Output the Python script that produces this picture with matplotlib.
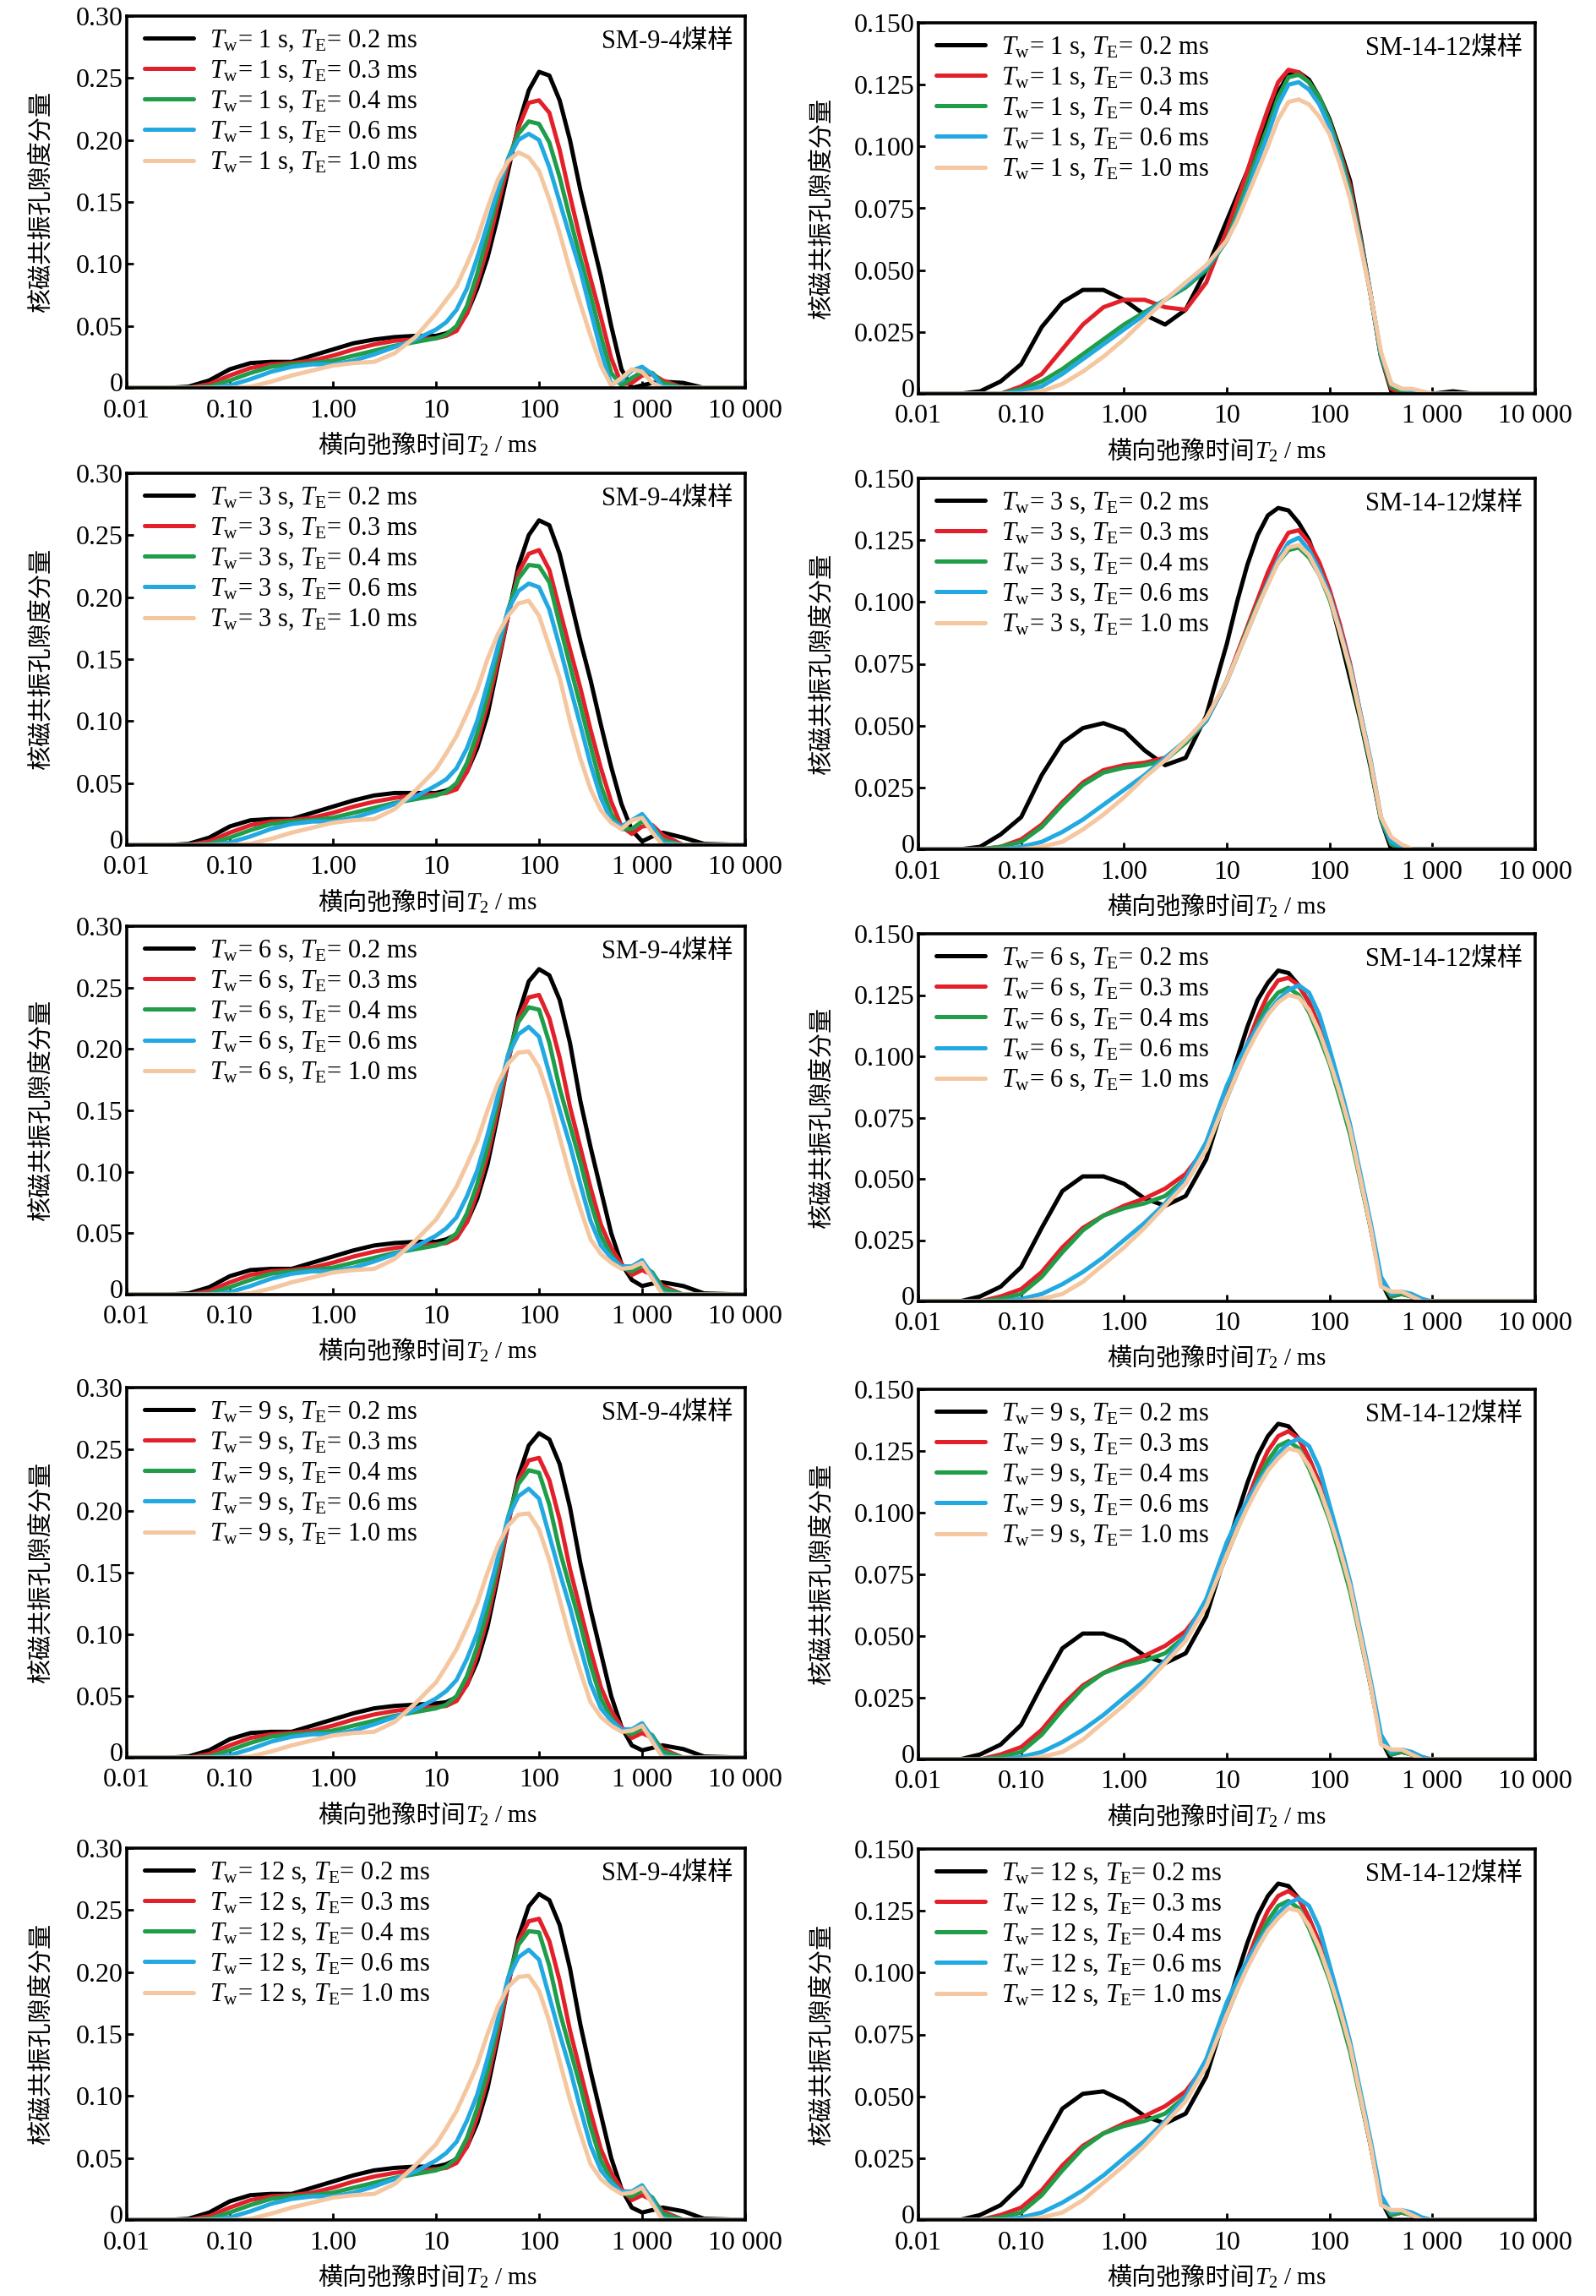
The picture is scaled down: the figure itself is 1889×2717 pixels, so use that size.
import matplotlib
matplotlib.use('Agg')
import matplotlib.pyplot as plt
import matplotlib.transforms as mtransforms
from matplotlib.ticker import NullLocator

plt.rcParams['font.family'] = ['Liberation Serif', 'Noto Sans CJK SC']
plt.rcParams['mathtext.fontset'] = 'custom'
plt.rcParams['mathtext.rm'] = 'Liberation Serif'
plt.rcParams['mathtext.it'] = 'Liberation Serif:italic'

#################################################################
# Data - T2 grid as log10(ms), porosity components
#################################################################

# SM-9-4 coal sample (left column)
LOG_T2_SM94 = [-2.0, -1.6, -1.4, -1.2, -1.0, -0.8, -0.6, -0.4, -0.2,
               0.0, 0.2, 0.4, 0.6, 0.8,
               1.0, 1.1, 1.2, 1.3, 1.4, 1.5, 1.6, 1.7, 1.8, 1.9, 2.0,
               2.1, 2.2, 2.3, 2.4, 2.5, 2.6, 2.7, 2.8, 2.9, 3.0, 3.1, 3.2,
               3.4, 3.6, 4.0]

# each panel: TE = 0.2, 0.3, 0.4, 0.6, 1.0 ms
SM94_TW1 = [
    [0, 0, .001, .006, .015, .020, .021, .021, .026, .031, .036, .039, .041, .042,
     .042, .044, .048, .060, .080, .105, .138, .175, .212, .240, .255,
     .252, .232, .200, .160, .125, .090, .050, .015, .000, .002, .004, .005, .004, 0, 0],
    [0, 0, 0, .003, .010, .016, .019, .020, .022, .026, .031, .035, .038, .039,
     .040, .042, .046, .060, .085, .113, .148, .180, .210, .230, .232,
     .222, .192, .155, .120, .088, .057, .024, .003, .004, .010, .011, .006, 0, 0, 0],
    [0, 0, 0, .001, .006, .012, .017, .019, .020, .022, .026, .030, .034, .037,
     .040, .043, .050, .066, .092, .123, .155, .185, .205, .215, .213,
     .198, .170, .137, .105, .075, .042, .012, .002, .008, .013, .012, .004, 0, 0, 0],
    [0, 0, 0, 0, .002, .007, .013, .017, .019, .019, .022, .027, .033, .039,
     .047, .053, .063, .080, .105, .132, .160, .185, .200, .205, .200,
     .178, .150, .122, .095, .062, .030, .003, .006, .014, .017, .011, .001, 0, 0, 0],
    [0, 0, 0, 0, 0, .001, .005, .010, .014, .018, .020, .021, .028, .041,
     .060, .071, .082, .100, .120, .145, .168, .183, .190, .186, .175,
     .152, .125, .095, .068, .042, .018, .002, .008, .015, .013, .004, 0, 0, 0, 0],
]

SM94_TW3 = [
    [0, 0, .001, .006, .015, .020, .021, .021, .026, .031, .036, .040, .042, .042,
     .042, .044, .048, .059, .078, .105, .145, .185, .225, .250, .262,
     .258, .235, .200, .165, .133, .097, .063, .033, .012, .003, .007, .010, .006, .001, 0],
    [0, 0, 0, .003, .010, .016, .019, .020, .022, .026, .031, .035, .038, .040,
     .041, .042, .045, .059, .083, .113, .148, .185, .220, .235, .238,
     .222, .190, .158, .127, .093, .062, .035, .015, .009, .015, .016, .008, 0, 0, 0],
    [0, 0, 0, .001, .006, .012, .017, .019, .020, .022, .026, .030, .034, .037,
     .040, .043, .050, .066, .090, .120, .155, .190, .215, .226, .225,
     .212, .178, .145, .113, .080, .048, .025, .013, .013, .019, .015, .004, 0, 0, 0],
    [0, 0, 0, 0, .002, .007, .013, .017, .019, .019, .022, .027, .033, .039,
     .048, .053, .062, .078, .100, .130, .160, .190, .205, .211, .208,
     .190, .160, .128, .097, .065, .038, .020, .015, .020, .025, .015, .002, 0, 0, 0],
    [0, 0, 0, 0, 0, .001, .005, .010, .014, .018, .020, .021, .029, .044,
     .061, .074, .088, .106, .125, .150, .170, .185, .195, .197, .185,
     .160, .135, .100, .070, .045, .028, .018, .013, .020, .022, .010, 0, 0, 0, 0],
]

SM94_TW6 = [
    [0, 0, .001, .006, .015, .020, .021, .021, .026, .031, .036, .040, .042, .043,
     .043, .045, .049, .059, .078, .106, .146, .190, .228, .255, .265,
     .260, .240, .205, .158, .120, .085, .050, .025, .012, .007, .009, .010, .007, .001, 0],
    [0, 0, 0, .003, .010, .016, .019, .020, .022, .026, .031, .035, .038, .040,
     .041, .042, .046, .059, .083, .113, .150, .190, .225, .242, .244,
     .225, .193, .153, .120, .087, .057, .038, .025, .016, .020, .016, .007, 0, 0, 0],
    [0, 0, 0, .001, .006, .012, .017, .019, .020, .022, .026, .030, .034, .037,
     .040, .043, .050, .066, .090, .120, .157, .195, .222, .234, .232,
     .205, .168, .138, .108, .075, .048, .032, .022, .019, .024, .018, .005, 0, 0, 0],
    [0, 0, 0, 0, .002, .007, .013, .017, .019, .019, .022, .027, .033, .039,
     .048, .054, .063, .080, .101, .130, .162, .195, .212, .218, .210,
     .180, .150, .122, .090, .060, .040, .030, .023, .023, .028, .016, .001, 0, 0, 0],
    [0, 0, 0, 0, 0, .001, .005, .010, .014, .018, .020, .021, .029, .044,
     .061, .074, .088, .106, .125, .150, .172, .188, .197, .198, .185,
     .160, .128, .097, .070, .045, .033, .026, .021, .022, .026, .013, 0, 0, 0, 0],
]

SM94_TW9 = [
    [0, 0, .001, .006, .015, .020, .021, .021, .026, .031, .036, .040, .042, .043,
     .044, .045, .049, .059, .078, .106, .146, .190, .228, .253, .263,
     .258, .238, .203, .158, .120, .085, .050, .025, .010, .006, .008, .010, .007, .001, 0],
    [0, 0, 0, .003, .010, .016, .019, .020, .022, .026, .031, .035, .038, .040,
     .041, .042, .046, .059, .083, .113, .150, .190, .225, .241, .243,
     .225, .193, .153, .120, .087, .057, .038, .025, .016, .020, .016, .007, 0, 0, 0],
    [0, 0, 0, .001, .006, .012, .017, .019, .020, .022, .026, .030, .034, .037,
     .040, .043, .050, .066, .090, .120, .157, .195, .222, .233, .231,
     .205, .168, .138, .108, .075, .048, .032, .022, .019, .024, .018, .005, 0, 0, 0],
    [0, 0, 0, 0, .002, .007, .013, .017, .019, .019, .022, .027, .033, .039,
     .048, .054, .063, .080, .101, .130, .162, .195, .212, .218, .210,
     .180, .150, .122, .090, .060, .040, .030, .023, .023, .028, .016, .001, 0, 0, 0],
    [0, 0, 0, 0, 0, .001, .005, .010, .014, .018, .020, .021, .029, .044,
     .061, .074, .088, .106, .125, .150, .172, .188, .197, .198, .185,
     .160, .128, .097, .070, .045, .033, .026, .021, .022, .026, .013, 0, 0, 0, 0],
]

SM94_TW12 = [
    [0, 0, .001, .006, .015, .020, .021, .021, .026, .031, .036, .040, .042, .043,
     .043, .045, .049, .059, .078, .106, .146, .190, .228, .253, .263,
     .258, .238, .203, .158, .120, .085, .050, .025, .010, .006, .008, .010, .007, .001, 0],
    [0, 0, 0, .003, .010, .016, .019, .020, .022, .026, .031, .035, .038, .040,
     .041, .042, .046, .059, .083, .113, .150, .190, .225, .241, .243,
     .225, .193, .153, .120, .087, .057, .038, .025, .016, .020, .016, .007, 0, 0, 0],
    [0, 0, 0, .001, .006, .012, .017, .019, .020, .022, .026, .030, .034, .037,
     .040, .043, .050, .066, .090, .120, .157, .195, .222, .233, .232,
     .205, .168, .138, .108, .075, .048, .032, .022, .019, .024, .018, .005, 0, 0, 0],
    [0, 0, 0, 0, .002, .007, .013, .017, .019, .019, .022, .027, .033, .039,
     .048, .054, .063, .080, .101, .130, .162, .195, .212, .218, .210,
     .180, .150, .122, .090, .060, .040, .030, .023, .023, .028, .016, .001, 0, 0, 0],
    [0, 0, 0, 0, 0, .001, .005, .010, .014, .018, .020, .021, .029, .044,
     .061, .074, .088, .106, .125, .150, .172, .188, .196, .197, .185,
     .160, .128, .097, .070, .045, .033, .026, .021, .022, .026, .013, 0, 0, 0, 0],
]

# SM-14-12 coal sample (right column)
LOG_T2_SM1412 = [-2.0, -1.6, -1.4, -1.2, -1.0, -0.8, -0.6, -0.4, -0.2,
                 0.0, 0.2, 0.4, 0.6, 0.8,
                 1.0, 1.1, 1.2, 1.3, 1.4, 1.5, 1.6, 1.7, 1.8, 1.9, 2.0, 2.1, 2.2, 2.3, 2.4, 2.5,
                 2.6, 2.7, 2.8, 2.9, 3.0,
                 3.2, 3.4, 4.0]

SM1412_TW1 = [
    [0, 0, .001, .005, .012, .027, .037, .042, .042, .038, .032, .028, .034, .050,
     .070, .080, .090, .101, .111, .122, .129, .130, .127, .120, .111, .099, .086, .064, .040, .015,
     .001, 0, 0, 0, 0, .001, 0, 0],
    [0, 0, 0, 0, .003, .008, .018, .028, .035, .038, .038, .035, .034, .045,
     .066, .078, .090, .103, .115, .126, .131, .130, .126, .119, .110, .098, .084, .063, .040, .015,
     .002, 0, 0, 0, 0, 0, 0, 0],
    [0, 0, 0, 0, .002, .005, .010, .016, .022, .028, .033, .038, .043, .050,
     .062, .073, .085, .097, .108, .120, .128, .129, .126, .120, .110, .097, .082, .062, .040, .015,
     .003, .001, 0, 0, 0, 0, 0, 0],
    [0, 0, 0, 0, .001, .003, .008, .014, .020, .026, .032, .038, .044, .051,
     .062, .071, .082, .094, .105, .117, .125, .126, .123, .117, .108, .095, .080, .061, .040, .016,
     .004, .002, .001, 0, 0, 0, 0, 0],
    [0, 0, 0, 0, 0, .001, .004, .009, .015, .022, .030, .038, .045, .052,
     .062, .070, .080, .090, .100, .111, .118, .119, .117, .112, .105, .093, .079, .060, .040, .017,
     .004, .002, .002, .001, 0, 0, 0, 0],
]

SM1412_TW3 = [
    [0, 0, .001, .006, .013, .030, .043, .049, .051, .048, .040, .034, .037, .054,
     .083, .100, .115, .127, .135, .138, .137, .132, .125, .114, .102, .086, .069, .052, .033, .012,
     0, 0, 0, 0, 0, 0, 0, 0],
    [0, 0, 0, .001, .004, .010, .019, .027, .032, .034, .035, .037, .043, .052,
     .068, .079, .090, .101, .112, .121, .128, .129, .124, .116, .105, .091, .075, .055, .035, .012,
     .002, 0, 0, 0, 0, 0, 0, 0],
    [0, 0, 0, .001, .003, .009, .018, .026, .031, .033, .034, .036, .043, .052,
     .068, .078, .089, .099, .108, .116, .121, .122, .118, .111, .101, .088, .072, .053, .034, .012,
     .002, 0, 0, 0, 0, 0, 0, 0],
    [0, 0, 0, 0, .001, .003, .007, .012, .018, .024, .030, .037, .044, .052,
     .068, .078, .088, .098, .108, .117, .124, .126, .121, .113, .103, .089, .074, .055, .036, .013,
     .003, .001, 0, 0, 0, 0, 0, 0],
    [0, 0, 0, 0, 0, .001, .003, .008, .014, .021, .029, .036, .044, .053,
     .068, .078, .088, .098, .107, .116, .122, .123, .119, .111, .102, .088, .073, .054, .035, .013,
     .005, .002, 0, 0, 0, 0, 0, 0],
]

SM1412_TW6 = [
    [0, 0, .002, .006, .014, .030, .045, .051, .051, .048, .042, .039, .043, .058,
     .085, .099, .112, .123, .130, .135, .134, .129, .122, .112, .100, .086, .070, .050, .030, .008,
     0, 0, 0, 0, 0, 0, 0, 0],
    [0, 0, 0, .002, .005, .012, .022, .030, .035, .039, .042, .046, .052, .063,
     .083, .094, .105, .116, .125, .131, .132, .129, .122, .112, .100, .086, .070, .050, .030, .008,
     .002, .003, .002, 0, 0, 0, 0, 0],
    [0, 0, 0, .001, .003, .010, .020, .029, .035, .038, .040, .043, .050, .062,
     .083, .093, .103, .113, .121, .126, .128, .125, .118, .108, .097, .083, .068, .049, .030, .008,
     .002, .003, .002, 0, 0, 0, 0, 0],
    [0, 0, 0, 0, .001, .003, .007, .012, .018, .025, .032, .040, .050, .065,
     .088, .097, .105, .112, .118, .123, .127, .129, .126, .117, .103, .088, .072, .052, .032, .010,
     .003, .004, .003, .001, 0, 0, 0, 0],
    [0, 0, 0, 0, 0, .001, .003, .008, .015, .022, .030, .039, .048, .062,
     .083, .093, .102, .110, .117, .122, .125, .124, .119, .110, .098, .085, .070, .050, .030, .006,
     .004, .004, .002, 0, 0, 0, 0, 0],
]

SM1412_TW9 = [
    [0, 0, .002, .006, .014, .030, .045, .051, .051, .048, .042, .039, .043, .058,
     .085, .099, .112, .123, .131, .136, .135, .130, .122, .112, .100, .086, .070, .050, .030, .008,
     0, 0, 0, 0, 0, 0, 0, 0],
    [0, 0, 0, .002, .005, .012, .022, .030, .035, .039, .042, .046, .052, .063,
     .083, .094, .105, .116, .125, .131, .133, .130, .122, .112, .100, .086, .070, .050, .030, .008,
     .002, .003, .002, 0, 0, 0, 0, 0],
    [0, 0, 0, .001, .003, .010, .020, .029, .035, .038, .040, .043, .050, .062,
     .083, .093, .103, .113, .121, .127, .129, .126, .118, .108, .097, .083, .068, .049, .030, .008,
     .002, .003, .002, 0, 0, 0, 0, 0],
    [0, 0, 0, 0, .001, .003, .007, .012, .018, .025, .032, .040, .050, .065,
     .088, .097, .105, .112, .118, .124, .128, .130, .127, .118, .103, .088, .072, .052, .032, .010,
     .003, .004, .003, .001, 0, 0, 0, 0],
    [0, 0, 0, 0, 0, .001, .003, .008, .015, .022, .030, .039, .048, .062,
     .083, .093, .102, .110, .117, .122, .126, .125, .119, .110, .098, .085, .070, .050, .030, .006,
     .004, .004, .002, 0, 0, 0, 0, 0],
]

SM1412_TW12 = [
    [0, 0, .002, .006, .014, .030, .045, .051, .052, .048, .042, .039, .043, .058,
     .085, .099, .112, .123, .131, .136, .135, .130, .122, .112, .100, .086, .070, .050, .030, .008,
     0, 0, 0, 0, 0, 0, 0, 0],
    [0, 0, 0, .002, .005, .012, .022, .030, .035, .039, .042, .046, .052, .063,
     .083, .094, .105, .116, .125, .131, .133, .130, .122, .112, .100, .086, .070, .050, .030, .008,
     .002, .003, .002, 0, 0, 0, 0, 0],
    [0, 0, 0, .001, .003, .010, .020, .029, .035, .038, .040, .043, .050, .062,
     .083, .093, .103, .113, .121, .127, .129, .126, .118, .108, .097, .083, .068, .049, .030, .008,
     .002, .003, .002, 0, 0, 0, 0, 0],
    [0, 0, 0, 0, .001, .003, .007, .012, .018, .025, .032, .040, .050, .065,
     .088, .097, .105, .112, .118, .124, .128, .130, .127, .118, .103, .088, .072, .052, .032, .010,
     .003, .004, .003, .001, 0, 0, 0, 0],
    [0, 0, 0, 0, 0, .001, .003, .008, .015, .022, .030, .039, .048, .062,
     .083, .093, .102, .110, .117, .122, .126, .125, .119, .110, .098, .085, .070, .050, .030, .006,
     .004, .004, .002, 0, 0, 0, 0, 0],
]

TW_VALUES = [1, 3, 6, 9, 12]
TE_VALUES = ['0.2', '0.3', '0.4', '0.6', '1.0']
COLORS = ['#000000', '#e3202a', '#1f9d48', '#23a9e1', '#f4c7a0']

X_TICKS = [0.01, 0.1, 1, 10, 100, 1000, 10000]
X_TICKLABELS = ['0.01', '0.10', '1.00', '10', '100', '1 000', '10 000']
Y_TICKS_SM94 = [0, 0.05, 0.10, 0.15, 0.20, 0.25, 0.30]
Y_TICKLABELS_SM94 = ['0', '0.05', '0.10', '0.15', '0.20', '0.25', '0.30']
Y_TICKS_SM1412 = [0, 0.025, 0.050, 0.075, 0.100, 0.125, 0.150]
Y_TICKLABELS_SM1412 = ['0', '0.025', '0.050', '0.075', '0.100', '0.125', '0.150']

#################################################################
# Layout (pixel boxes of each axes in the 1890 x 2717 figure)
#################################################################
W, H = 1890, 2717
LEFT_BOXES = [(150, 19, 882, 459), (150, 560, 882, 1000), (150, 1096, 882, 1532),
              (150, 1642, 882, 2080), (150, 2187, 882, 2627)]
RIGHT_BOXES = [(1087, 27, 1817, 466), (1087, 566, 1817, 1005), (1087, 1105, 1817, 1540),
               (1087, 1644, 1817, 2082), (1087, 2188, 1817, 2627)]


def to_rect(b):
    x0, y0, x1, y1 = b
    return [x0 / W, 1 - y1 / H, (x1 - x0) / W, (y1 - y0) / H]


def draw_panel(fig, ax, curves, log_t2, tw, sample, yticks, yticklabels, ylab_x, xlab_split):
    t2 = [10 ** e for e in log_t2]
    for series, te, color in zip(curves, TE_VALUES, COLORS):
        ax.plot(t2, series, color=color, lw=3.6, solid_capstyle='round', solid_joinstyle='round',
                label=r'$T_\mathrm{w}$= %d s, $T_\mathrm{E}$= %s ms' % (tw, te))
    ax.set_xscale('log')
    ax.set_xlim(0.01, 10000)
    ax.set_ylim(0, yticks[-1])
    ax.set_xticks(X_TICKS)
    ax.set_xticklabels(X_TICKLABELS)
    ax.xaxis.set_minor_locator(NullLocator())
    ax.set_yticks(yticks)
    ax.set_yticklabels(yticklabels)
    ax.tick_params(axis='both', direction='in', length=6, width=2, labelsize=23)
    ax.tick_params(axis='x', pad=9)
    ax.tick_params(axis='y', pad=3)
    # the "0" on the y axis sits a little above the corner, clear of "0.01"
    zero_lbl = ax.yaxis.get_major_ticks()[0].label1
    zero_lbl.set_transform(zero_lbl.get_transform() +
                           mtransforms.ScaledTranslation(0, 5 / 72, fig.dpi_scale_trans))
    for s in ax.spines.values():
        s.set_linewidth(2.6)
    # x label: Chinese part and math part as two texts (mathtext has no CJK glyphs)
    ax.text(xlab_split, -0.175, '横向弛豫时间', transform=ax.transAxes,
            ha='right', va='baseline', fontsize=21)
    ax.text(xlab_split, -0.175, r'$T_2$ / ms', transform=ax.transAxes,
            ha='left', va='baseline', fontsize=21)
    ax.set_ylabel('核磁共振孔隙度分量', fontsize=21)
    ax.yaxis.set_label_coords(ylab_x, 0.5)
    ax.legend(loc='upper left', bbox_to_anchor=(0.0, 1.015), frameon=False, fontsize=22,
              handlelength=1.9, handletextpad=0.6, labelspacing=0.22, borderaxespad=0.3)
    ax.text(0.98, 0.93, sample, transform=ax.transAxes, ha='right', va='center', fontsize=22)


fig = plt.figure(figsize=(18.9, 27.17), dpi=100)

left_data = [SM94_TW1, SM94_TW3, SM94_TW6, SM94_TW9, SM94_TW12]
right_data = [SM1412_TW1, SM1412_TW3, SM1412_TW6, SM1412_TW9, SM1412_TW12]

for i in range(5):
    ax = fig.add_axes(to_rect(LEFT_BOXES[i]))
    draw_panel(fig, ax, left_data[i], LOG_T2_SM94, TW_VALUES[i], 'SM-9-4煤样',
               Y_TICKS_SM94, Y_TICKLABELS_SM94, -0.12, 0.548)
    ax = fig.add_axes(to_rect(RIGHT_BOXES[i]))
    draw_panel(fig, ax, right_data[i], LOG_T2_SM1412, TW_VALUES[i], 'SM-14-12煤样',
               Y_TICKS_SM1412, Y_TICKLABELS_SM1412, -0.137, 0.545)

fig.savefig('out.png', dpi=100)
